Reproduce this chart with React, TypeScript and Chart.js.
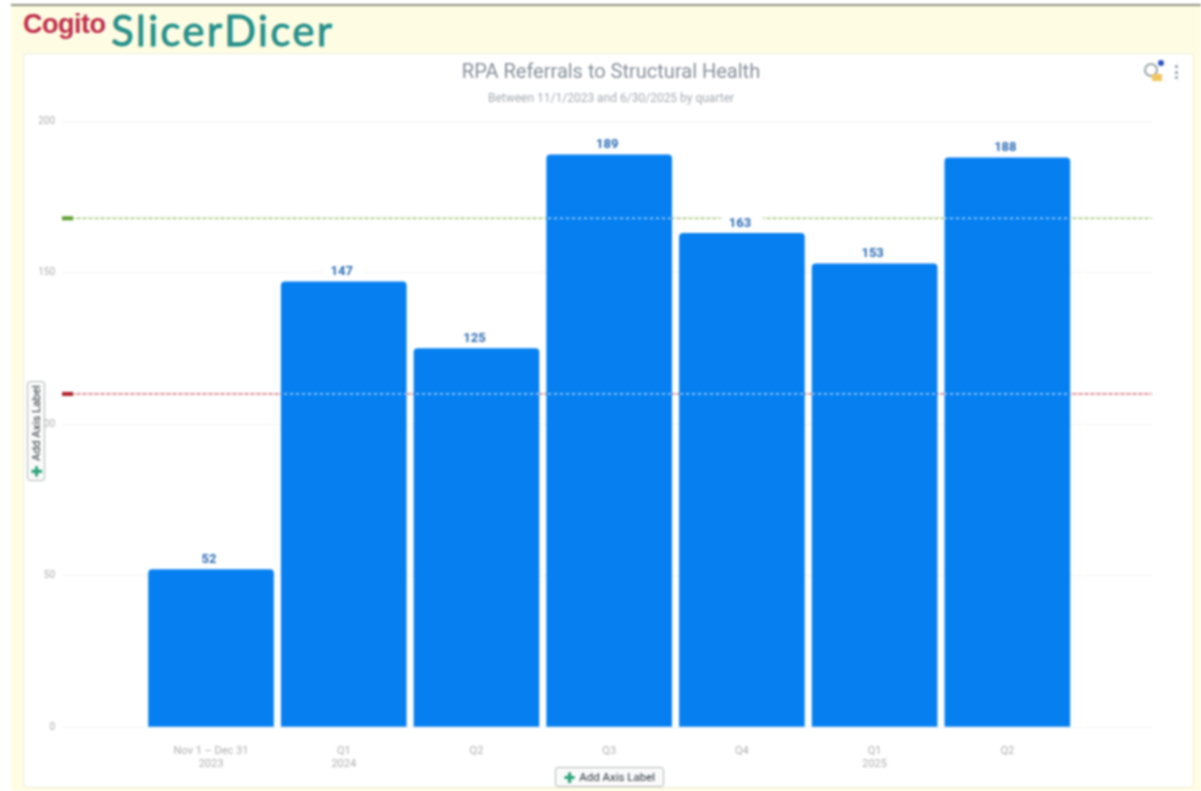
import React, { useEffect, useRef } from "react";
import { Chart, registerables } from "chart.js";

Chart.register(...registerables);

const categories: string[][] = [
  ["Nov 1 – Dec 31", "2023"],
  ["Q1", "2024"],
  ["Q2"],
  ["Q3"],
  ["Q4"],
  ["Q1", "2025"],
  ["Q2"],
];
const referrals = [52, 147, 125, 189, 163, 153, 188];
const greenThreshold = 168;
const redThreshold = 110;
const titleText = "RPA Referrals to Structural Health";
const subtitleText = "Between 11/1/2023 and 6/30/2025 by quarter";

const X_MIN = -1.123;
const X_MAX = 7.09;

const thresholdLine = (y: number, color: string, dash: number[], order: number) => ({
  type: "line" as const,
  data: [
    { x: X_MIN, y },
    { x: X_MAX, y },
  ],
  borderColor: color,
  borderWidth: 1,
  borderDash: dash,
  pointRadius: 0,
  order,
});

const overlayPlugin = {
  id: "overlay",
  afterDatasetsDraw(chart: any) {
    const { ctx, scales } = chart;
    const xs = scales.x;
    const ys = scales.y;
    ctx.save();
    [
      [greenThreshold, "#5f9e2e"],
      [redThreshold, "#b0222c"],
    ].forEach(([v, c]: any) => {
      ctx.fillStyle = c;
      ctx.fillRect(xs.getPixelForValue(X_MIN), ys.getPixelForValue(v) - 2, 11, 4);
    });
    ctx.textAlign = "center";
    ctx.textBaseline = "middle";
    ctx.font = "bold 13px Roboto";
    referrals.forEach((v, i) => {
      const x = xs.getPixelForValue(i);
      const top = ys.getPixelForValue(v);
      ctx.fillStyle = "#ffffff";
      ctx.fillRect(x - 21, top - 19, 42, 18);
      ctx.fillStyle = "#2c6cb4";
      ctx.fillText(String(v), x - 2, top - 10);
    });
    ctx.restore();
  },
};

function AxisButton({ style }: { style: React.CSSProperties }) {
  return (
    <div
      style={{
        position: "absolute",
        display: "flex",
        alignItems: "center",
        justifyContent: "center",
        gap: 4,
        background: "#fafafa",
        border: "1px solid #b0bab8",
        borderRadius: 3,
        font: "11.5px Roboto",
        color: "#2c353e",
        whiteSpace: "nowrap",
        boxSizing: "border-box",
        ...style,
      }}
    >
      <span style={{ color: "#2ba37c", fontWeight: 900, fontSize: 21, lineHeight: "14px" }}>+</span>
      <span>Add Axis Label</span>
    </div>
  );
}

export default function App() {
  const ref = useRef<HTMLCanvasElement>(null);
  useEffect(() => {
    document.body.style.margin = "0";
    const chart = new Chart(ref.current as HTMLCanvasElement, {
      type: "bar",
      data: {
        datasets: [
          thresholdLine(greenThreshold, "#6aa82c", [], 3),
          thresholdLine(redThreshold, "#bb2a34", [], 3),
          {
            type: "bar",
            data: referrals.map((y, x) => ({ x, y })),
            backgroundColor: "#0680f0",
            barThickness: 125,
            borderRadius: { topLeft: 4, topRight: 4, bottomLeft: 0, bottomRight: 0 },
            borderSkipped: false,
            order: 2,
          },
          thresholdLine(greenThreshold, "#ffffff", [3, 3], 1),
          thresholdLine(redThreshold, "#ffffff", [3, 3], 1),
        ] as any,
      },
      options: {
        animation: false,
        responsive: false,
        devicePixelRatio: 1,
        layout: { padding: { left: 23, right: 2, top: 61, bottom: 0 } },
        plugins: {
          legend: { display: false },
          tooltip: { enabled: false },
          title: {
            display: true,
            text: titleText,
            color: "#87909a",
            font: { family: "Roboto", size: 20, weight: "normal" },
            padding: { top: 0, bottom: 3 },
          },
          subtitle: {
            display: true,
            text: subtitleText,
            color: "#a4abb2",
            font: { family: "Roboto", size: 12, weight: "normal" },
            padding: { top: 4, bottom: 15 },
          },
        },
        scales: {
          x: {
            type: "linear",
            offset: false,
            min: X_MIN,
            max: X_MAX,
            grid: { display: false },
            border: { display: false },
            afterBuildTicks: (s: any) => {
              s.ticks = categories.map((_, i) => ({ value: i }));
            },
            afterFit: (s: any) => {
              s.height = 64;
            },
            ticks: {
              autoSkip: false,
              maxRotation: 0,
              padding: 9,
              color: "#aeaeae",
              font: { family: "Roboto", size: 11, lineHeight: 1.25 },
              callback: (v: any) => categories[v] ?? "",
            },
          },
          y: {
            min: 0,
            max: 200,
            afterFit: (s: any) => {
              s.width = 39;
            },
            grid: { color: "#f3f3f3", drawTicks: false },
            border: { display: false },
            ticks: {
              stepSize: 50,
              padding: 7,
              color: "#aeaeae",
              font: { family: "Roboto", size: 10 },
            },
          },
          y2: {
            position: "right",
            min: 0,
            max: 1,
            grid: { display: false },
            border: { display: false },
            ticks: { display: false },
            afterFit: (s: any) => {
              s.width = 47;
            },
          },
        },
      } as any,
      plugins: [overlayPlugin as any],
    });
    return () => chart.destroy();
  }, []);

  return (
    <div
      style={{
        position: "absolute",
        left: 0,
        top: 0,
        width: 1201,
        height: 791,
        overflow: "hidden",
        background: "#ffffff",
        filter: "blur(0.8px)",
      }}
    >
      <div style={{ position: "absolute", left: 11, top: 5, right: 0, bottom: 0, background: "#fefde4" }} />
      <div style={{ position: "absolute", left: 11, top: 4, right: 0, height: 2, background: "#8b907a" }} />
      <div
        style={{
          position: "absolute",
          left: 23,
          top: 53,
          width: 1171,
          height: 735,
          background: "#fff",
          border: "1px solid #ecedd9",
          borderRadius: 4,
          boxSizing: "border-box",
        }}
      />
      <div
        style={{
          position: "absolute",
          left: 23,
          top: 9,
          font: "bold 27px 'Liberation Sans'",
          color: "#bf2f4b",
          letterSpacing: -0.5,
        }}
      >
        Cogito
      </div>
      <div
        style={{
          position: "absolute",
          left: 111,
          top: 5,
          font: "42px Lato",
          color: "#26908a",
          letterSpacing: 2.3,
          WebkitTextStroke: "0.8px #26908a",
        }}
      >
        SlicerDicer
      </div>
      <canvas ref={ref} width={1201} height={791} style={{ position: "absolute", left: 0, top: 0 }} />
      <AxisButton style={{ left: 555, top: 767, width: 109, height: 20 }} />
      <AxisButton
        style={{
          left: 27,
          top: 381,
          width: 18,
          height: 100,
          writingMode: "vertical-rl",
          transform: "rotate(180deg)",
        }}
      />
      <div
        style={{
          position: "absolute",
          left: 1144,
          top: 63,
          width: 14,
          height: 14,
          border: "2px solid #9aa5a5",
          borderRadius: "50%",
          boxSizing: "border-box",
        }}
      />
      <div style={{ position: "absolute", left: 1152, top: 74, width: 10, height: 7, background: "#f2c660" }} />
      <div style={{ position: "absolute", left: 1158, top: 60, width: 6, height: 6, background: "#2a4fc0", borderRadius: "50%" }} />
      {[65, 71, 76].map((t) => (
        <div key={t} style={{ position: "absolute", left: 1175, top: t, width: 3, height: 3, background: "#8a9298", borderRadius: "50%" }} />
      ))}
    </div>
  );
}
